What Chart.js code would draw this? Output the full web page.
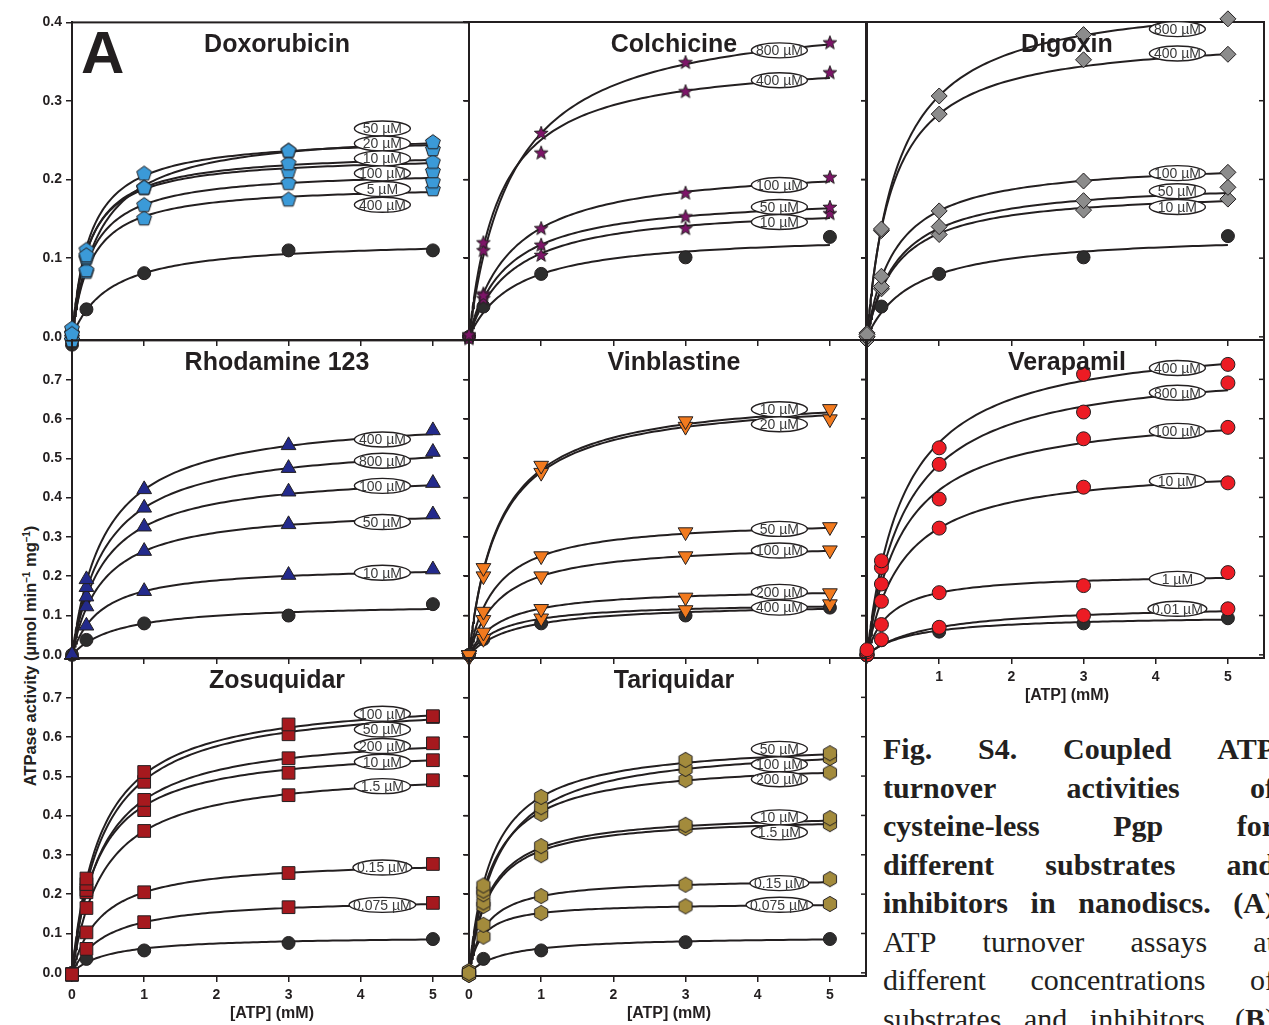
<!DOCTYPE html>
<html>
<head>
<meta charset="utf-8">
<script src="https://cdn.jsdelivr.net/npm/chart.js@4.4.1/dist/chart.umd.min.js"></script>
<style>
  html, body { margin: 0; padding: 0; background: #fff; }
  body { position: relative; width: 1269px; height: 1025px; overflow: hidden; }
  canvas { position: absolute; }
  #ytitle {
    position: absolute; left: 30px; top: 656px;
    transform: translate(-50%, -50%) rotate(-90deg);
    white-space: nowrap; color: #231f20;
    font: bold 16.5px "Liberation Sans", Arial, sans-serif;
  }
  #ytitle sup { font-size: 10px; vertical-align: 6px; line-height: 0; }
  #caption {
    position: absolute; left: 883px; top: 730px; width: 392px;
    font: 30px/38.5px "Liberation Serif", "Times New Roman", serif; color: #231f20;
  }
  #caption .ln { display: flex; justify-content: space-between; white-space: nowrap; }
  #caption .b { font-weight: bold; }
</style>
</head>
<body>
<div id="ytitle">ATPase activity (µmol min<sup>–1</sup> mg<sup>–1</sup>)</div>
<div id="caption">
  <div class="ln b"><span>Fig.</span><span>S4.</span><span>Coupled</span><span>ATP</span></div>
  <div class="ln b"><span>turnover</span><span>activities</span><span>of</span></div>
  <div class="ln b"><span>cysteine-less</span><span>Pgp</span><span>for</span></div>
  <div class="ln b"><span>different</span><span>substrates</span><span>and</span></div>
  <div class="ln b"><span>inhibitors</span><span>in</span><span>nanodiscs.</span><span>(A)</span></div>
  <div class="ln"><span>ATP</span><span>turnover</span><span>assays</span><span>at</span></div>
  <div class="ln"><span>different</span><span>concentrations</span><span>of</span></div>
  <div class="ln"><span>substrates</span><span>and</span><span>inhibitors.</span><span>(<b>B</b>)</span></div>
</div>
<script>
// ATP concentrations (mM) at which every rate was measured
const atpMM = [0, 0.2, 1, 3, 5];
const atpTicks = [0, 1, 2, 3, 4, 5];

// Doxorubicin
const doxoConc = ['50 µM', '20 µM', '10 µM', '100 µM', '5 µM', '400 µM'];
const doxoRates = [
  [0.004, 0.104, 0.190, 0.237, 0.248],
  [0.011, 0.111, 0.208, 0.237, 0.239],
  [-0.004, 0.102, 0.190, 0.221, 0.223],
  [0.000, 0.100, 0.190, 0.211, 0.211],
  [0.005, 0.085, 0.168, 0.196, 0.198],
  [-0.004, 0.083, 0.151, 0.175, 0.188],
];
const doxoVmax = [0.265, 0.256, 0.236, 0.231, 0.213, 0.194];
const doxoKm = [0.378, 0.249, 0.241, 0.230, 0.266, 0.266];
const doxoTagY = [0.265, 0.246, 0.227, 0.208, 0.188, 0.168];
const doxoCtrl = [-0.010, 0.035, 0.081, 0.110, 0.110];
const doxoCtrlFit = [0.124, 0.529];

// Colchicine
const colchConc = ['800 µM', '400 µM', '100 µM', '50 µM', '10 µM'];
const colchRates = [
  [0.003, 0.120, 0.259, 0.349, 0.374],
  [-0.002, 0.110, 0.234, 0.312, 0.336],
  [0.000, 0.053, 0.138, 0.183, 0.203],
  [0.002, 0.055, 0.117, 0.153, 0.165],
  [0.000, 0.049, 0.104, 0.138, 0.157],
];
const colchVmax = [0.417, 0.357, 0.221, 0.181, 0.169];
const colchKm = [0.612, 0.426, 0.599, 0.545, 0.595];
const colchTagY = [0.364, 0.326, 0.193, 0.165, 0.146];
const colchCtrl = [0.000, 0.0385, 0.080, 0.101, 0.127];
const colchCtrlFit = [0.132, 0.654];

// Digoxin
const digConc = ['800 µM', '400 µM', '100 µM', '50 µM', '10 µM'];
const digRates = [
  [0.003, 0.137, 0.306, 0.384, 0.404],
  [0.000, 0.135, 0.283, 0.352, 0.359],
  [0.005, 0.077, 0.160, 0.198, 0.209],
  [0.000, 0.064, 0.140, 0.173, 0.190],
  [-0.004, 0.061, 0.130, 0.161, 0.175],
];
const digVmax = [0.438, 0.385, 0.225, 0.199, 0.187];
const digKm = [0.430, 0.360, 0.405, 0.444, 0.424];
const digTagY = [0.391, 0.360, 0.208, 0.185, 0.165];
const digCtrl = [0.000, 0.0385, 0.080, 0.101, 0.128];
const digCtrlFit = [0.132, 0.654];

// Rhodamine 123
const rhoConc = ['400 µM', '800 µM', '100 µM', '50 µM', '10 µM'];
const rhoRates = [
  [0.000, 0.192, 0.421, 0.533, 0.571],
  [0.000, 0.172, 0.374, 0.475, 0.516],
  [0.000, 0.148, 0.326, 0.415, 0.437],
  [0.000, 0.123, 0.264, 0.332, 0.357],
  [0.000, 0.074, 0.162, 0.203, 0.217],
];
const rhoVmax = [0.613, 0.549, 0.469, 0.378, 0.228];
const rhoKm = [0.459, 0.468, 0.438, 0.432, 0.408];
const rhoTagY = [0.548, 0.494, 0.430, 0.338, 0.209];
const rhoCtrl = [0.000, 0.038, 0.080, 0.100, 0.129];
const rhoCtrlFit = [0.132, 0.654];

// Vinblastine
const vinConc = ['10 µM', '20 µM', '50 µM', '100 µM', '200 µM', '400 µM'];
const vinRates = [
  [0.000, 0.221, 0.481, 0.594, 0.625],
  [0.000, 0.200, 0.463, 0.580, 0.599],
  [0.000, 0.110, 0.251, 0.312, 0.325],
  [0.000, 0.089, 0.200, 0.251, 0.266],
  [0.000, 0.057, 0.117, 0.146, 0.157],
  [-0.006, 0.041, 0.093, 0.114, 0.129],
];
const vinVmax = [0.668, 0.660, 0.347, 0.287, 0.171, 0.134];
const vinKm = [0.42, 0.42, 0.381, 0.435, 0.45, 0.46];
const vinTagY = [0.624, 0.586, 0.320, 0.265, 0.160, 0.120];
const vinCtrl = [0.000, 0.040, 0.080, 0.100, 0.120];
const vinCtrlFit = [0.132, 0.654];

// Verapamil
const verConc = ['400 µM', '800 µM', '100 µM', '10 µM', '1 µM', '0.01 µM'];
const verRates = [
  [0.013, 0.239, 0.526, 0.713, 0.738],
  [0.008, 0.222, 0.484, 0.617, 0.691],
  [0.000, 0.180, 0.396, 0.549, 0.578],
  [0.000, 0.136, 0.322, 0.426, 0.437],
  [0.000, 0.077, 0.158, 0.176, 0.209],
  [0.000, 0.039, 0.070, 0.100, 0.117],
];
const verVmax = [0.815, 0.745, 0.628, 0.4875, 0.208, 0.130];
const verKm = [0.51, 0.54, 0.50, 0.514, 0.319, 0.858];
const verTagY = [0.729, 0.666, 0.569, 0.442, 0.193, 0.117];
const verCtrl = [0.000, 0.037, 0.059, 0.080, 0.093];
const verCtrlFit = [0.101, 0.634];

// Zosuquidar
const zosConc = ['100 µM', '50 µM', '200 µM', '10 µM', '1.5 µM', '0.15 µM', '0.075 µM'];
const zosRates = [
  [-0.004, 0.240, 0.511, 0.632, 0.653],
  [-0.004, 0.226, 0.486, 0.607, 0.651],
  [-0.004, 0.211, 0.440, 0.546, 0.584],
  [-0.004, 0.205, 0.414, 0.509, 0.541],
  [-0.004, 0.165, 0.361, 0.452, 0.490],
  [-0.004, 0.103, 0.205, 0.254, 0.277],
  [-0.004, 0.061, 0.129, 0.167, 0.178],
];
const zosVmax = [0.7075, 0.700, 0.6196, 0.5806, 0.523, 0.290, 0.192];
const zosKm = [0.401, 0.429, 0.408, 0.366, 0.45, 0.416, 0.49];
const zosTagY = [0.659, 0.619, 0.577, 0.537, 0.475, 0.268, 0.173];
const zosCtrl = [0.000, 0.0355, 0.057, 0.076, 0.086];
const zosCtrlFit = [0.0936, 0.51];

// Tariquidar
const tarConc = ['50 µM', '100 µM', '200 µM', '10 µM', '1.5 µM', '0.15 µM', '0.075 µM'];
const tarRates = [
  [0.000, 0.222, 0.447, 0.541, 0.558],
  [-0.005, 0.209, 0.421, 0.518, 0.546],
  [0.000, 0.200, 0.404, 0.490, 0.509],
  [0.005, 0.179, 0.322, 0.376, 0.393],
  [0.000, 0.170, 0.299, 0.368, 0.378],
  [0.000, 0.122, 0.195, 0.224, 0.238],
  [-0.005, 0.092, 0.152, 0.169, 0.175],
];
const tarVmax = [0.591, 0.586, 0.541, 0.409, 0.400, 0.241, 0.178];
const tarKm = [0.322, 0.395, 0.32, 0.287, 0.289, 0.236, 0.171];
const tarTagY = [0.569, 0.530, 0.492, 0.395, 0.357, 0.228, 0.173];
const tarCtrl = [0.000, 0.0355, 0.057, 0.078, 0.086];
const tarCtrlFit = [0.0936, 0.51];

// ---- layout ----
const ink = '#231f20';
const ctrlFill = '#2d2d2d';
const plotLeft = [72, 469, 867];
const plotTop = [22, 340, 658];
const plotW = 397, plotH = 318;
const padL = 70, padT = 12, padR = 12, padB = 60;
const rowRange = [[-0.004, 0.4], [-0.008, 0.8], [-0.008, 0.8]];
const rowTicks = [
  [0, 0.1, 0.2, 0.3, 0.4],
  [0, 0.1, 0.2, 0.3, 0.4, 0.5, 0.6, 0.7, 0.8],
  [0, 0.1, 0.2, 0.3, 0.4, 0.5, 0.6, 0.7, 0.8],
];
const tagX = 4.3;
const sansFont = '"Liberation Sans", Arial, Helvetica, sans-serif';

const panels = [
  { title: 'Doxorubicin', row: 0, col: 0, marker: 'pentagon', fill: '#3b9ad8', conc: doxoConc, rates: doxoRates, vmax: doxoVmax, km: doxoKm, tagY: doxoTagY, ctrl: doxoCtrl, ctrlFit: doxoCtrlFit, letter: 'A' },
  { title: 'Colchicine', row: 0, col: 1, marker: 'star', fill: '#7d1468', conc: colchConc, rates: colchRates, vmax: colchVmax, km: colchKm, tagY: colchTagY, ctrl: colchCtrl, ctrlFit: colchCtrlFit },
  { title: 'Digoxin', row: 0, col: 2, marker: 'rectRot', fill: '#8c8c8c', conc: digConc, rates: digRates, vmax: digVmax, km: digKm, tagY: digTagY, ctrl: digCtrl, ctrlFit: digCtrlFit },
  { title: 'Rhodamine 123', row: 1, col: 0, marker: 'triangle', fill: '#232a8c', conc: rhoConc, rates: rhoRates, vmax: rhoVmax, km: rhoKm, tagY: rhoTagY, ctrl: rhoCtrl, ctrlFit: rhoCtrlFit },
  { title: 'Vinblastine', row: 1, col: 1, marker: 'triangle', rotation: 180, fill: '#f27a1e', conc: vinConc, rates: vinRates, vmax: vinVmax, km: vinKm, tagY: vinTagY, ctrl: vinCtrl, ctrlFit: vinCtrlFit },
  { title: 'Verapamil', row: 1, col: 2, marker: 'circle', fill: '#ec1c24', conc: verConc, rates: verRates, vmax: verVmax, km: verKm, tagY: verTagY, ctrl: verCtrl, ctrlFit: verCtrlFit, xLabels: true, skipZero: true },
  { title: 'Zosuquidar', row: 2, col: 0, marker: 'rect', fill: '#a6191e', conc: zosConc, rates: zosRates, vmax: zosVmax, km: zosKm, tagY: zosTagY, ctrl: zosCtrl, ctrlFit: zosCtrlFit, xLabels: true },
  { title: 'Tariquidar', row: 2, col: 1, marker: 'hexagon', fill: '#a38b3c', conc: tarConc, rates: tarRates, vmax: tarVmax, km: tarKm, tagY: tarTagY, ctrl: tarCtrl, ctrlFit: tarCtrlFit, xLabels: true },
];

const markerRadius = { circle: 7, rect: 9, rectRot: 8, triangle: 8.5 };

// filled polygon markers that Chart.js has no built-in style for
function makeMarker(kind, fill) {
  const size = 20, c = document.createElement('canvas');
  c.width = c.height = size;
  const g = c.getContext('2d');
  const pts = [];
  if (kind === 'pentagon') {
    for (let i = 0; i < 5; i++) {
      const a = -Math.PI / 2 + i * 2 * Math.PI / 5;
      pts.push([10 + 7.8 * Math.cos(a), 10.5 + 7.8 * Math.sin(a)]);
    }
  } else if (kind === 'hexagon') {
    for (let i = 0; i < 6; i++) {
      const a = -Math.PI / 2 + i * Math.PI / 3;
      pts.push([10 + 7.6 * Math.cos(a), 10 + 7.6 * Math.sin(a)]);
    }
  } else if (kind === 'star') {
    for (let i = 0; i < 10; i++) {
      const a = -Math.PI / 2 + i * Math.PI / 5;
      const r = i % 2 ? 3 : 7.2;
      pts.push([10 + r * Math.cos(a), 10.5 + r * Math.sin(a)]);
    }
  }
  g.beginPath();
  pts.forEach(([px, py], i) => (i ? g.lineTo(px, py) : g.moveTo(px, py)));
  g.closePath();
  g.fillStyle = fill;
  g.fill();
  g.lineWidth = 1;
  g.strokeStyle = ink;
  g.stroke();
  return c;
}

// x grid for the Michaelis-Menten fit lines, denser near zero
const curveX = [];
for (let i = 0; i <= 120; i++) curveX.push(5 * Math.pow(i / 120, 2));

function fitLine(vmax, km) {
  return {
    data: curveX.map(s => ({ x: s, y: vmax * s / (km + s) })),
    showLine: true,
    borderColor: ink,
    borderWidth: 2,
    pointRadius: 0,
    pointHoverRadius: 0,
    tension: 0,
    order: 2,
  };
}

function points(values, style) {
  return Object.assign({
    data: values.map((y, j) => ({ x: atpMM[j], y })),
    showLine: false,
    pointBorderColor: ink,
    pointBorderWidth: 1,
    clip: false,
  }, style);
}

function drawTags(chart, p) {
  const { ctx, scales: { x, y } } = chart;
  ctx.save();
  ctx.font = '14px ' + sansFont;
  ctx.textAlign = 'center';
  ctx.textBaseline = 'middle';
  p.conc.forEach((label, i) => {
    const cx = x.getPixelForValue(tagX);
    const cy = y.getPixelForValue(p.tagY[i]);
    const rx = Math.max(28, ctx.measureText(label).width / 2 + 4);
    ctx.beginPath();
    ctx.ellipse(cx, cy, rx, 7.5, 0, 0, Math.PI * 2);
    ctx.fillStyle = '#fff';
    ctx.fill();
    ctx.lineWidth = 1.4;
    ctx.strokeStyle = ink;
    ctx.stroke();
    ctx.fillStyle = '#3a3a3a';
    ctx.fillText(label, cx, cy + 1);
  });
  ctx.restore();
}

function decor(p) {
  return {
    id: 'decor',
    beforeDatasetsDraw(chart) {
      const { ctx, chartArea: a } = chart;
      ctx.save();
      ctx.strokeStyle = ink;
      ctx.lineWidth = 2;
      ctx.strokeRect(a.left, a.top, a.right - a.left, a.bottom - a.top);
      // inward tick marks on the right edge
      ctx.lineWidth = 1.5;
      chart.scales.y.ticks.forEach(t => {
        const py = chart.scales.y.getPixelForValue(t.value);
        ctx.beginPath();
        ctx.moveTo(a.right - 5, py);
        ctx.lineTo(a.right, py);
        ctx.stroke();
      });
      ctx.restore();
    },
    afterDatasetDraw(chart, args) {
      if (args.index === 0) drawTags(chart, p);
    },
    afterDraw(chart) {
      const { ctx, chartArea: a, scales: { x } } = chart;
      ctx.save();
      ctx.fillStyle = ink;
      ctx.textAlign = 'center';
      ctx.textBaseline = 'alphabetic';
      ctx.font = 'bold 25px ' + sansFont;
      ctx.fillText(p.title, x.getPixelForValue(p.col === 2 ? 2.77 : 2.84), a.top + 30);
      if (p.letter) {
        ctx.textAlign = 'left';
        ctx.font = 'bold 60px ' + sansFont;
        ctx.fillText(p.letter, a.left + 9, a.top + 51);
      }
      if (p.xLabels) {
        ctx.textAlign = 'center';
        ctx.textBaseline = 'middle';
        ctx.font = 'bold 16px ' + sansFont;
        ctx.fillText('[ATP] (mM)', x.getPixelForValue(2.77), a.bottom + 38);
      }
      ctx.restore();
    },
  };
}

panels.forEach(p => {
  const canvas = document.createElement('canvas');
  const w = plotW + padL + padR, h = plotH + padT + padB;
  canvas.width = w;
  canvas.height = h;
  canvas.style.left = (plotLeft[p.col] - padL) + 'px';
  canvas.style.top = (plotTop[p.row] - padT) + 'px';
  document.body.appendChild(canvas);

  let style;
  if (markerRadius[p.marker]) {
    style = { pointStyle: p.marker, pointRadius: markerRadius[p.marker], pointRotation: p.rotation || 0, pointBackgroundColor: p.fill };
  } else {
    style = { pointStyle: makeMarker(p.marker, p.fill) };
  }

  const datasets = [];
  p.rates.forEach((r, i) => datasets.push(fitLine(p.vmax[i], p.km[i])));
  datasets.push(fitLine(p.ctrlFit[0], p.ctrlFit[1]));
  p.rates.forEach(r => datasets.push(points(r, Object.assign({ order: 1 }, style))));
  datasets.push(points(p.ctrl, { order: 1.5, pointStyle: 'circle', pointRadius: 6.5, pointBackgroundColor: ctrlFill }));

  const [yMin, yMax] = rowRange[p.row];
  const yTicks = rowTicks[p.row];
  const axisGrid = { drawOnChartArea: false, drawTicks: true, tickLength: 6, lineWidth: 1.5, color: ink };
  const axisBorder = { display: true, color: ink, width: 2 };

  new Chart(canvas, {
    type: 'scatter',
    data: { datasets },
    options: {
      responsive: false,
      animation: false,
      devicePixelRatio: 1,
      events: [],
      layout: { padding: { top: padT, right: padR, left: 0, bottom: 0 } },
      plugins: { legend: { display: false }, tooltip: { enabled: false } },
      scales: {
        x: {
          type: 'linear', min: 0, max: 5.5,
          afterBuildTicks: s => { s.ticks = atpTicks.map(v => ({ value: v })); },
          afterFit: s => { s.height = padB; },
          grid: axisGrid,
          border: axisBorder,
          ticks: {
            display: !!p.xLabels, color: ink, padding: 5, maxRotation: 0, autoSkip: false,
            font: { family: sansFont, size: 14, weight: 'bold' },
            callback: v => (p.skipZero && v === 0 ? '' : String(v)),
          },
        },
        y: {
          type: 'linear', min: yMin, max: yMax,
          afterBuildTicks: s => { s.ticks = yTicks.map(v => ({ value: v })); },
          afterFit: s => { s.width = padL; },
          grid: axisGrid,
          border: axisBorder,
          ticks: {
            display: p.col === 0, color: ink, padding: 4, autoSkip: false,
            font: { family: sansFont, size: 14, weight: 'bold' },
            callback: v => (v > 0.75 ? '' : v.toFixed(1)),
          },
        },
      },
    },
    plugins: [decor(p)],
  });
});
</script>
</body>
</html>
